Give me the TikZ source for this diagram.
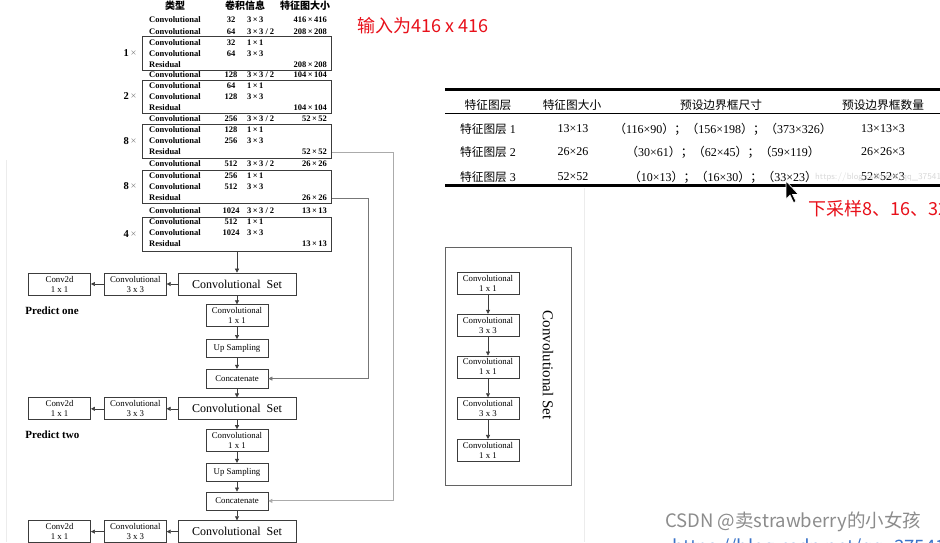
\documentclass[tikz,border=0pt]{standalone}
\usepackage{fontspec}
\setmainfont{Liberation Serif}
\newfontfamily\cjk{Noto Sans CJK SC}
\usetikzlibrary{positioning,arrows.meta,calc}
\definecolor{inkgray}{HTML}{3C3C3C}
\definecolor{linkgray}{HTML}{777777}
\definecolor{farlink}{HTML}{ABABAB}
\definecolor{notered}{HTML}{E8101A}
\definecolor{csdngray}{HTML}{8C8C8C}
\definecolor{urlblue}{HTML}{3B73C8}
\newcommand\fs[1]{\fontsize{#1}{#1}\selectfont}
\newcommand\bx[1]{{\cjk （}#1{\cjk ）}}
\newcommand\semi{{\cjk ；}}

\begin{document}
\begin{tikzpicture}[x=1pt, y=-1pt, node distance=11pt and 12pt,
  cell/.style={inner sep=0pt, font=\fs{8.5}\bfseries},
  blk/.style={draw=inkgray, line width=0.7pt, minimum width=189pt, inner sep=0pt},
  mult/.style={inner sep=0pt, font=\fs{10.5}},
  box/.style={draw=inkgray, line width=0.7pt, minimum width=62pt, minimum height=22pt, align=center, inner sep=0pt, font=\fontsize{8.8}{10}\selectfont},
  setbox/.style={box, minimum width=118pt, font=\fs{12}},
  predict/.style={inner sep=0pt, font=\fs{11}\bfseries, anchor=west},
  arr/.style={-{Triangle[length=4pt,width=4pt]}, line width=0.6pt, inkgray},
  th/.style={inner sep=0pt, font=\cjk\fs{11.7}},
  td/.style={inner sep=0pt, font=\fs{12}},
  note/.style={inner sep=0pt, font=\cjk\fs{18}, text=notered, anchor=west}]
  \useasboundingbox (0,0) rectangle (940,542);
  \clip (0,0) rectangle (940,542);
  \fill[white] (0,0) rectangle (940,542);
  % page edges of the screenshot
  \draw[gray!15, line width=1pt] (6,160) -- (6,542);
  \draw[gray!15, line width=1pt] (584,188) -- (584,542);

  % darknet-53 table
  \node[inner sep=0pt, font=\cjk\bfseries\fs{10}] (hd1) at (175,6) {类型};
  \node[inner sep=0pt, font=\cjk\bfseries\fs{10}] (hd2) at (245,6) {卷积信息};
  \node[inner sep=0pt, font=\cjk\bfseries\fs{10}] (hd3) at (305,6) {特征图大小};
  \foreach \b/\yc/\h/\m in {1/53/34/1, 2/96.5/33/2, 3/141/34/8, 4/186.5/33/8, 5/234/34/4} {
    \node[blk, minimum height=\h pt] (blk\b) at (237,\yc) {};
    \node[mult] (mult\b) at (130,\yc) {\textbf{\m}\,{\color{gray}×}};
  }
  \foreach \y/\t/\n/\k/\s in {
      20/Convolutional/32/{3\,×\,3}/{416\,×\,416},
      32/Convolutional/64/{3\,×\,3 / 2}/{208\,×\,208},
      43/Convolutional/32/{1\,×\,1}/{},
      54/Convolutional/64/{3\,×\,3}/{},
      65/Residual/{}/{}/{208\,×\,208},
      75/Convolutional/128/{3\,×\,3 / 2}/{104\,×\,104},
      86/Convolutional/64/{1\,×\,1}/{},
      97/Convolutional/128/{3\,×\,3}/{},
      108/Residual/{}/{}/{104\,×\,104},
      119/Convolutional/256/{3\,×\,3 / 2}/{52\,×\,52},
      130/Convolutional/128/{1\,×\,1}/{},
      141/Convolutional/256/{3\,×\,3}/{},
      152/Residual/{}/{}/{52\,×\,52},
      164/Convolutional/512/{3\,×\,3 / 2}/{26\,×\,26},
      176/Convolutional/256/{1\,×\,1}/{},
      187/Convolutional/512/{3\,×\,3}/{},
      198/Residual/{}/{}/{26\,×\,26},
      211/Convolutional/1024/{3\,×\,3 / 2}/{13\,×\,13},
      222/Convolutional/512/{1\,×\,1}/{},
      233/Convolutional/1024/{3\,×\,3}/{},
      244/Residual/{}/{}/{13\,×\,13}} {
    \node[cell, anchor=west] (ty\y) at (149,\y) {\t};
    \node[cell] (nu\y) at (231,\y) {\n};
    \node[cell, anchor=west] (ke\y) at (247,\y) {\k};
    \node[cell, anchor=east] (sz\y) at (327,\y) {\s};
  }

  % prediction branches
  \node[setbox] (set1) at (237,284) {Convolutional\ \ Set};
  \node[box, left=11pt of set1] (c33a) {Convolutional\\3 x 3};
  \node[box, left=13pt of c33a] (c2da) {Conv2d\\1 x 1};
  \node[predict] (pone) at ($(c2da.south west)+(-3,15)$) {Predict one};
  \node[box, below=9pt of set1] (c11a) {Convolutional\\1 x 1};
  \node[box, below=12pt of c11a, minimum height=18pt] (upa) {Up Sampling};
  \node[box, below=11pt of upa, minimum height=19pt] (cata) {Concatenate};
  \node[setbox, below=9pt of cata] (set2) {Convolutional\ \ Set};
  \node[box, left=11pt of set2] (c33b) {Convolutional\\3 x 3};
  \node[box, left=13pt of c33b] (c2db) {Conv2d\\1 x 1};
  \node[predict] (ptwo) at ($(c2db.south west)+(-3,15)$) {Predict two};
  \node[box, below=9pt of set2] (c11b) {Convolutional\\1 x 1};
  \node[box, below=11pt of c11b, minimum height=18pt] (upb) {Up Sampling};
  \node[box, below=10pt of upb, minimum height=18pt] (catb) {Concatenate};
  \node[setbox, below=10pt of catb] (set3) {Convolutional\ \ Set};
  \node[box, left=11pt of set3] (c33c) {Convolutional\\3 x 3};
  \node[box, left=13pt of c33c] (c2dc) {Conv2d\\1 x 1};

  \draw[arr] (blk5) -- (set1);
  \draw[arr] (set1) -- (c33a); \draw[arr] (c33a) -- (c2da);
  \draw[arr] (set1) -- (c11a); \draw[arr] (c11a) -- (upa); \draw[arr] (upa) -- (cata); \draw[arr] (cata) -- (set2);
  \draw[arr] (set2) -- (c33b); \draw[arr] (c33b) -- (c2db);
  \draw[arr] (set2) -- (c11b); \draw[arr] (c11b) -- (upb); \draw[arr] (upb) -- (catb); \draw[arr] (catb) -- (set3);
  \draw[arr] (set3) -- (c33c); \draw[arr] (c33c) -- (c2dc);
  \draw[arr, linkgray] (blk4.east |- sz198) -- ++(36,0) |- (cata);
  \draw[arr, farlink, line width=0.9pt] (blk3.east |- sz152) -- ++(62,0) |- (catb);

  % convolutional set detail
  \node[draw=inkgray!80, line width=0.7pt, minimum width=126pt, minimum height=238pt] (panel) at (508,366) {};
  \node[box] (cs1) at (488,283.5) {Convolutional\\1 x 1};
  \node[box, below=19pt of cs1] (cs2) {Convolutional\\3 x 3};
  \node[box, below=19pt of cs2] (cs3) {Convolutional\\1 x 1};
  \node[box, below=19pt of cs3] (cs4) {Convolutional\\3 x 3};
  \node[box, below=19pt of cs4] (cs5) {Convolutional\\1 x 1};
  \foreach \a/\b in {cs1/cs2, cs2/cs3, cs3/cs4, cs4/cs5} \draw[arr] (\a) -- (\b);
  \node[rotate=-90, inner sep=0pt, font=\fs{15}] (cstitle) at (548,365) {Convolutional Set};

  % anchor table
  \draw[line width=3pt] (445,89.5) -- (940,89.5);
  \draw[line width=1.2pt] (445,113.5) -- (940,113.5);
  \draw[line width=3pt] (445,185.5) -- (940,185.5);
  \node[th] (ah1) at (488,105) {特征图层};
  \node[th] (ah2) at (572,105) {特征图大小};
  \node[th] (ah3) at (721,105) {预设边界框尺寸};
  \node[th] (ah4) at (883,105) {预设边界框数量};
  \foreach \y/\k/\sz/\an/\ct in {
      129/1/13×13/{\bx{116×90}\semi\bx{156×198}\semi\bx{373×326}}/13×13×3,
      152/2/26×26/{\bx{30×61}\semi\bx{62×45}\semi\bx{59×119}}/26×26×3,
      177/3/52×52/{\bx{10×13}\semi\bx{16×30}\semi\bx{33×23}}/52×52×3} {
    \node[td] (lay\k) at (488,\y) {{\cjk\fs{11.7}特征图层} \k};
    \node[td] (siz\k) at (573,\y) {\sz};
    \node[td] (anc\k) at (723,\y) {\an};
    \node[td] (cnt\k) at (883,\y) {\ct};
  }
  \node[inner sep=0pt, anchor=west, font=\sffamily\fs{9}, text=gray!30] (wmurl) at (815,177) {https://blog.csdn.net/qq\_37541097};

  % annotations of the screenshot
  \node[note] (innote) at (357,26) {输入为416 x 416};
  \node[note] (dsnote) at (808,209) {下采样8、16、32倍};
  \filldraw[fill=black, draw=white, line width=0.6pt] (786,181) -- ++(0,18) -- ++(4,-4) -- ++(3.5,7.5) -- ++(2.5,-1) -- ++(-3.5,-7) -- ++(6,0) -- cycle;
  \node[inner sep=0pt, font=\cjk\fs{18.5}, text=csdngray, anchor=west] (csdn) at (665,522) {CSDN @卖strawberry的小女孩};
  \node[inner sep=0pt, font=\cjk\fs{18.5}, text=urlblue, anchor=base west] (url) at (672,553) {https://blog.csdn.net/qq\_37541097};
\end{tikzpicture}
\end{document}
